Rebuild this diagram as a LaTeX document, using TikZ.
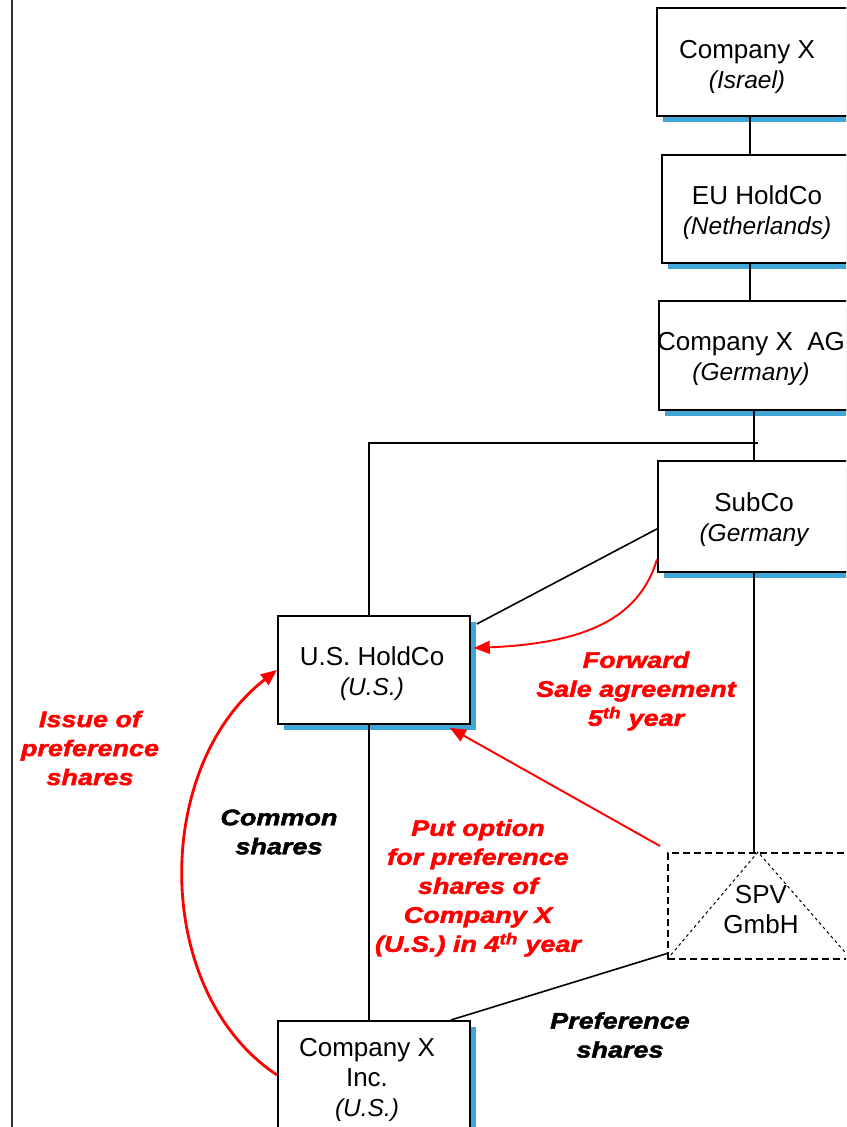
\documentclass[tikz,border=0pt]{standalone}
\usepackage{fontspec}
\setmainfont{Liberation Sans}
\newfontface\heavy{Liberation Sans Bold Italic}[FakeStretch=1.2,FakeBold=2]
\usetikzlibrary{arrows.meta}
\definecolor{shadowblue}{RGB}{64,166,214}
\definecolor{flowred}{RGB}{255,0,0}
\newcommand\ctry[1]{{\fontsize{24.5}{30}\selectfont\itshape #1}}

\begin{document}
\begin{tikzpicture}[x=1pt,y=-1pt,
  entity/.style={draw=black, line width=1.8pt, fill=white, anchor=north west,
    inner sep=0pt,
    preaction={fill=shadowblue, transform canvas={shift={(6pt,-6pt)}}}},
  entname/.style={align=center, inner sep=0pt, font=\fontsize{26}{30}\selectfont},
  lbl/.style={align=center, inner sep=0pt, font=\heavy\fontsize{22.5}{29}\selectfont},
  conn/.style={draw=black, line width=1.6pt},
  flow/.style={draw=flowred, line width=1.9pt, -{Triangle[length=16pt,width=13pt]}},
  spvbox/.style={draw=black, line width=1.5pt, dash pattern=on 7pt off 4pt,
    anchor=north west, inner sep=0pt},
  spvtri/.style={draw=black, line width=1pt, dash pattern=on 3pt off 3pt}]

\useasboundingbox (0,0) rectangle (846,1127);
\clip (0,0) rectangle (846,1127);

% page rule on the left
\draw[line width=1.5pt, black!80] (12,0) -- (12,1127);

% x positions of the vertical spines and the junction on the top bar
\coordinate (xa) at (750,0);
\coordinate (xb) at (754,0);
\coordinate (xc) at (369,0);
\coordinate (j1) at (758,443);
\coordinate (j2) at (369,443);
\coordinate (ap) at (758,852);
\coordinate (tr) at (850,958);

% entities
\node[entity, minimum width=230pt, minimum height=108pt] (isr) at (656,7) {};
\node[entity, minimum width=230pt, minimum height=108pt] (eu) at (661,154) {};
\node[entity, minimum width=230pt, minimum height=109pt] (ag) at (658,300) {};
\node[entity, minimum width=230pt, minimum height=111pt] (sub) at (657,460) {};
\node[entity, minimum width=192pt, minimum height=108pt] (ush) at (277,615) {};
\node[entity, minimum width=192pt, minimum height=140pt] (inc) at (277,1020) {};
\node[spvbox, minimum width=200pt, minimum height=106pt] (spv) at (667,852) {};

% ownership lines
\draw[conn] (isr.south -| xa) -- (eu.north -| xa);
\draw[conn] (eu.south -| xa) -- (ag.north -| xa);
\draw[conn] (ag.south -| xb) -- (sub.north -| xb);
\draw[conn] (j1) -- (j2) -- (ush.north -| j2);
\draw[conn] (sub.south -| xb) -- (spv.north -| xb);
\draw[conn] (ush.south -| xc) -- (inc.north -| xc);
\draw[conn] ([yshift=-12.5pt]sub.west) -- ([xshift=6pt,yshift=-9pt]ush.north east);
\draw[conn] ([yshift=6pt]spv.south west) -- ([xshift=-20pt]inc.north east);

% triangle inside the SPV box
\draw[spvtri] (spv.south west) -- (ap) -- (tr);

% entity names
\node[entname] (isrT) at (747,67) {Company X\\\ctry{(Israel)}};
\node[entname] (euT) at (757,213) {EU HoldCo\\\ctry{(Netherlands)}};
\node[entname] (agT) at (751,359) {Company X\ \ AG\\\ctry{(Germany)}};
\node[entname] (subT) at (754,520) {SubCo\\\ctry{(Germany}};
\node[entname] (ushT) at (372,674) {U.S. HoldCo\\\ctry{(U.S.)}};
\node[entname] (incT) at (367,1080) {Company X\\Inc.\\\ctry{(U.S.)}};
\node[entname] (spvT) at (761,910) {SPV\\GmbH};

% transactions
\draw[flow] ([yshift=-43pt]sub.west) .. controls (640,615) and (592,643) .. ([xshift=3pt,yshift=-33pt]ush.north east);
\draw[flow] ([xshift=-7pt,yshift=6pt]spv.north west) -- ([xshift=-21pt,yshift=-3pt]ush.south east);
\draw[flow, line width=2.8pt] ([yshift=-55pt]inc.north west) .. controls (152,992) and (152,767) .. ([yshift=-55pt]ush.north west);

% labels
\node[lbl, text=flowred] (issueL) at (90,748) {Issue of\\preference\\shares};
\node[lbl] (commonL) at (279,832) {Common\\shares};
\node[lbl, text=flowred] (putL) at (478,888) {Put option\\for preference\\shares of\\Company X\\(U.S.) in 4\textsuperscript{th} year};
\node[lbl, text=flowred] (fwdL) at (636,691) {Forward\\Sale agreement\\5\textsuperscript{th} year};
\node[lbl] (prefL) at (620,1035) {Preference\\shares};
\end{tikzpicture}
\end{document}
